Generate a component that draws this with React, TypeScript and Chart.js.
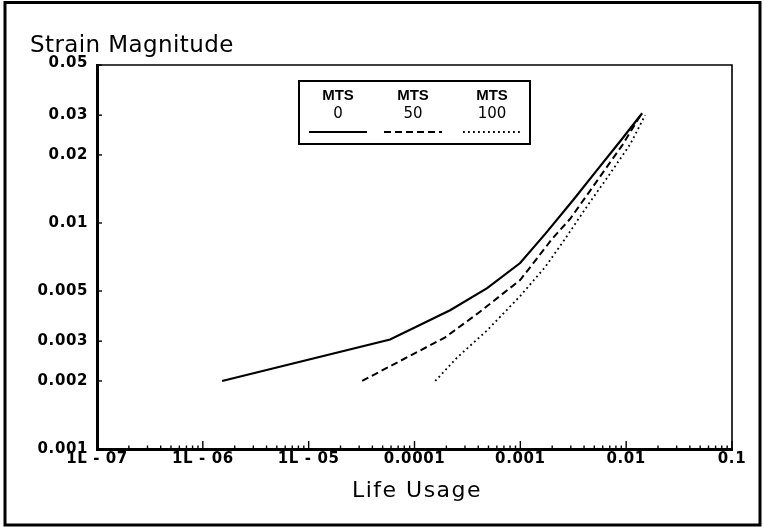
import React, { useEffect, useRef } from "react";
import { Chart, registerables } from "chart.js";
Chart.register(...registerables);

// ---- data ----
const legendHeader = "MTS";
const seriesNames = ["0", "50", "100"];

const mts0Life = [1.52e-6, 5.88e-5, 2.17e-4, 4.86e-4, 9.96e-4, 1.72e-3, 3.23e-3, 5.44e-3, 8.78e-3, 1.416e-2];
const mts0Strain = [0.002, 0.00305, 0.00411, 0.00515, 0.00665, 0.00895, 0.0128, 0.0174, 0.0230, 0.0306];

const mts50Life = [3.2e-5, 1.95e-4, 3.99e-4, 9.96e-4, 2.0e-3, 2.96e-3, 5.09e-3, 9.17e-3, 1.386e-2];
const mts50Strain = [0.002, 0.00312, 0.00399, 0.00559, 0.00851, 0.01044, 0.01494, 0.02205, 0.0303];

const mts100Life = [1.57e-4, 2.53e-4, 4.86e-4, 9.96e-4, 1.72e-3, 2.65e-3, 4.37e-3, 7.06e-3, 1.091e-2, 1.512e-2];
const mts100Strain = [0.002, 0.00254, 0.00335, 0.00475, 0.00639, 0.00851, 0.01205, 0.01655, 0.02228, 0.0300];

const xTickValues = [1e-7, 1e-6, 1e-5, 1e-4, 1e-3, 1e-2, 1e-1];
const xTickLabels = ["1L - 07", "1L - 06", "1L - 05", "0.0001", "0.001", "0.01", "0.1"];
const xMinorMultipliers = [2, 3, 4, 5, 6, 7, 8, 9];

const yTickValues = [0.001, 0.002, 0.003, 0.005, 0.01, 0.02, 0.03, 0.05];
const yTickLabels = ["0.001", "0.002", "0.003", "0.005", "0.01", "0.02", "0.03", "0.05"];

const yTitle = "Strain Magnitude";
const xTitle = "Life Usage";

const FONT = '"DejaVu Sans", sans-serif';

const series = [
  { name: seriesNames[0], life: mts0Life, strain: mts0Strain, dash: [] as number[], width: 2.2 },
  { name: seriesNames[1], life: mts50Life, strain: mts50Strain, dash: [7, 4], width: 2 },
  { name: seriesNames[2], life: mts100Life, strain: mts100Strain, dash: [1.8, 3.2], width: 1.8 },
];

const decorPlugin = {
  id: "decor",
  afterDraw(chart: any) {
    const { ctx, chartArea: a, scales } = chart;
    const x = scales.x;
    const y = scales.y;
    ctx.save();
    ctx.strokeStyle = "#000";
    ctx.fillStyle = "#000";

    // outer frame
    ctx.lineWidth = 3;
    ctx.strokeRect(5, 2.5, 755, 522.5);

    // top & right plot border
    ctx.lineWidth = 1.6;
    ctx.beginPath();
    ctx.moveTo(a.left, a.top);
    ctx.lineTo(a.right, a.top);
    ctx.lineTo(a.right, a.bottom);
    ctx.stroke();

    // x ticks (inward)
    ctx.lineWidth = 1.4;
    xTickValues.forEach((dec, i) => {
      const px = x.getPixelForValue(dec);
      ctx.beginPath();
      ctx.moveTo(px, a.bottom);
      ctx.lineTo(px, a.bottom - 8);
      ctx.stroke();
      if (i < xTickValues.length - 1) {
        xMinorMultipliers.forEach((m) => {
          const mp = x.getPixelForValue(dec * m);
          ctx.beginPath();
          ctx.moveTo(mp, a.bottom);
          ctx.lineTo(mp, a.bottom - 3.5);
          ctx.stroke();
        });
      }
    });

    // y ticks (inward)
    yTickValues.forEach((v) => {
      const py = y.getPixelForValue(v);
      ctx.beginPath();
      ctx.moveTo(a.left, py);
      ctx.lineTo(a.left + 5, py);
      ctx.stroke();
    });

    // tick labels
    ctx.letterSpacing = "0.6px";
    ctx.font = `bold 15px ${FONT}`;
    ctx.textAlign = "center";
    ctx.textBaseline = "top";
    xTickValues.forEach((v, i) => {
      ctx.fillText(xTickLabels[i], x.getPixelForValue(v), a.bottom + 3);
    });
    ctx.textAlign = "right";
    ctx.textBaseline = "middle";
    yTickValues.forEach((v, i) => {
      let py = y.getPixelForValue(v);
      if (i === yTickValues.length - 1) py -= 2;
      ctx.fillText(yTickLabels[i], a.left - 9, py);
    });

    // titles
    ctx.letterSpacing = "0.4px";
    ctx.font = `23px ${FONT}`;
    ctx.textAlign = "left";
    ctx.textBaseline = "alphabetic";
    ctx.fillText(yTitle, 30, 52);

    ctx.letterSpacing = "1.5px";
    ctx.font = `22px ${FONT}`;
    ctx.textAlign = "center";
    ctx.fillText(xTitle, 417, 497);

    // legend
    ctx.letterSpacing = "0px";
    ctx.lineWidth = 2;
    ctx.strokeRect(299, 81, 231, 63);
    const centers = [338, 413, 492];
    series.forEach((s, i) => {
      const cx = centers[i];
      ctx.textAlign = "center";
      ctx.textBaseline = "middle";
      ctx.font = `bold 15px "Liberation Sans", ${FONT}`;
      ctx.fillText(legendHeader, cx, 96);
      ctx.font = `15px ${FONT}`;
      ctx.fillText(s.name, cx, 114);
      const ds = chart.data.datasets[i];
      ctx.save();
      ctx.lineWidth = ds.borderWidth;
      ctx.setLineDash(ds.borderDash || []);
      ctx.beginPath();
      ctx.moveTo(cx - 29, 132);
      ctx.lineTo(cx + 29, 132);
      ctx.stroke();
      ctx.restore();
    });

    ctx.restore();
  },
};

export default function App() {
  const ref = useRef<HTMLCanvasElement | null>(null);

  useEffect(() => {
    if (!ref.current) return;
    const chart = new Chart(ref.current, {
      type: "scatter",
      data: {
        datasets: series.map((s) => ({
          label: s.name,
          data: s.life.map((v, i) => ({ x: v, y: s.strain[i] })),
          borderColor: "#000",
          backgroundColor: "#000",
          borderWidth: s.width,
          borderDash: s.dash,
          pointRadius: 0,
          showLine: true,
          fill: false,
          tension: 0,
        })),
      },
      options: {
        animation: false,
        responsive: false,
        devicePixelRatio: 1,
        layout: { padding: { top: 65, right: 32, bottom: 0, left: 0 } },
        plugins: { legend: { display: false }, tooltip: { enabled: false }, title: { display: false } },
        scales: {
          x: {
            type: "logarithmic",
            min: xTickValues[0],
            max: xTickValues[xTickValues.length - 1],
            grid: { display: false, drawTicks: false },
            border: { display: true, color: "#000", width: 3 },
            ticks: { display: false },
            afterBuildTicks: (s: any) => {
              s.ticks = xTickValues.map((v) => ({ value: v }));
            },
            afterFit: (s: any) => {
              s.height = 78;
            },
          },
          y: {
            type: "logarithmic",
            min: yTickValues[0],
            max: yTickValues[yTickValues.length - 1],
            grid: { display: false, drawTicks: false },
            border: { display: true, color: "#000", width: 3 },
            ticks: { display: false },
            afterBuildTicks: (s: any) => {
              s.ticks = yTickValues.map((v) => ({ value: v }));
            },
            afterFit: (s: any) => {
              s.width = 97;
            },
          },
        },
      },
      plugins: [decorPlugin],
    } as any);
    return () => chart.destroy();
  }, []);

  return (
    <div style={{ position: "fixed", left: 0, top: 0, width: 764, height: 527, background: "#fff" }}>
      <canvas ref={ref} width={764} height={527} style={{ display: "block" }} />
    </div>
  );
}
